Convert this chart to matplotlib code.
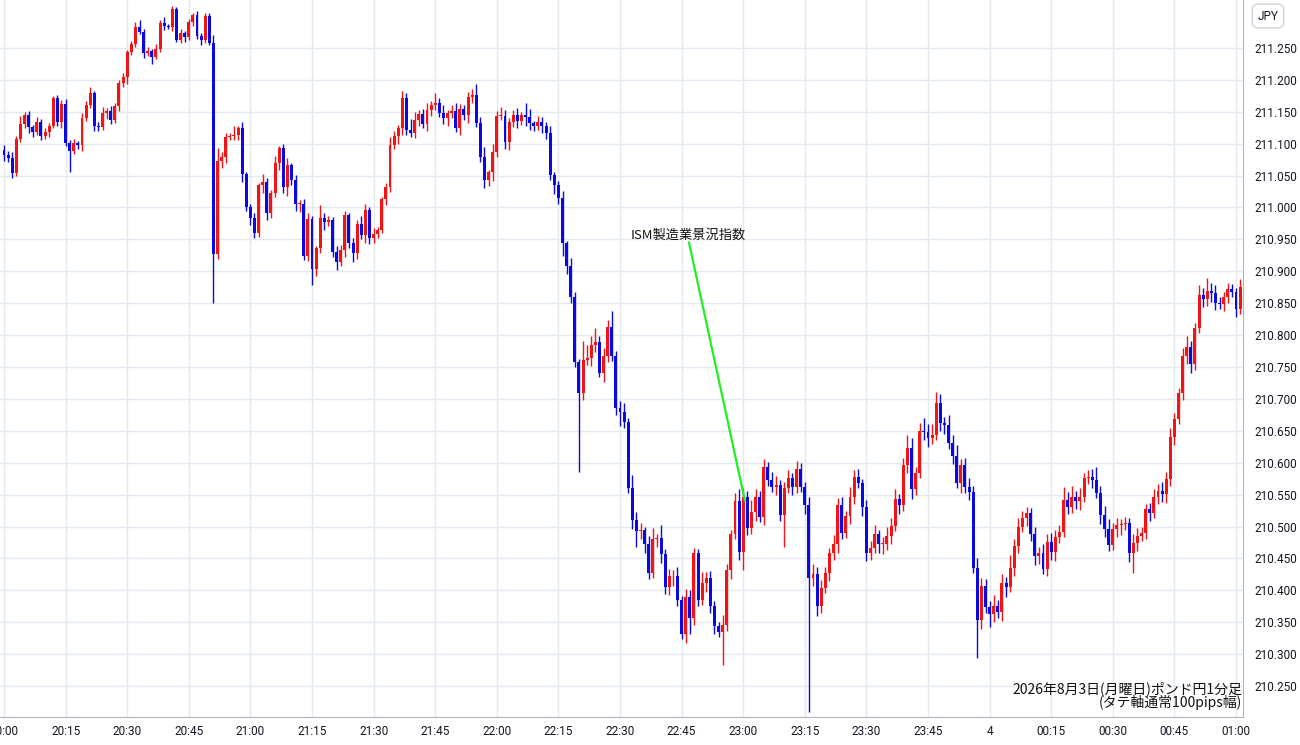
import matplotlib
matplotlib.use("Agg")
import matplotlib.pyplot as plt
import numpy as np

plt.rcParams['font.family'] = ['Noto Sans CJK JP', 'DejaVu Sans']

# closing prices, one per minute starting 20:00
closes = [
 211.082,211.077,211.054,211.107,211.131,211.145,211.126,211.118,211.134,211.112,
 211.118,211.128,211.171,211.134,211.162,211.101,211.088,211.101,211.098,211.140,
 211.160,211.179,211.128,211.126,211.148,211.151,211.137,211.159,211.195,211.204,
 211.244,211.256,211.283,211.275,211.242,211.245,211.236,211.248,211.289,211.284,
 211.283,211.311,211.262,211.273,211.267,211.291,211.301,211.269,211.262,211.300,
 211.258,210.927,
 211.073,211.079,211.110,211.112,211.113,211.124,211.052,211.001,210.983,210.960,
 211.035,211.040,210.991,211.023,211.070,211.093,211.032,211.066,211.043,211.005,
 211.005,210.924,210.982,210.903,210.936,210.983,210.977,210.980,210.930,210.914,
 210.933,210.988,210.944,210.929,210.974,210.957,210.996,210.952,210.958,210.965,
 211.013,
 211.032,211.098,211.112,211.124,211.171,211.121,211.117,211.137,211.146,211.131,
 211.153,211.160,211.164,211.148,211.140,211.148,211.151,211.124,211.154,211.145,
 211.173,211.176,211.132,211.079,211.043,211.055,211.087,211.143,211.143,211.102,
 211.134,211.145,211.135,211.145,211.142,211.132,211.128,211.134,211.128,211.117,
 211.051,211.035,211.015,210.944,210.908,210.860,210.758,210.709,210.761,210.764,
 210.784,210.789,
 210.740,210.767,210.813,210.767,210.686,210.679,210.664,210.560,210.510,210.493,
 210.495,210.473,210.427,210.480,210.482,210.457,210.405,210.422,210.422,210.385,
 210.332,210.390,210.357,210.458,210.385,210.411,210.419,210.375,210.344,210.335,
 210.346,210.432,210.488,210.540,210.460,210.546,210.498,210.523,210.546,210.515,
 210.593,210.573,
 210.562,210.565,210.518,210.560,210.576,210.562,210.590,210.562,210.534,210.419,
 210.426,210.375,210.404,210.427,210.458,210.473,210.534,210.490,210.516,210.546,
 210.578,210.568,210.531,210.458,210.466,210.488,210.473,210.473,210.485,210.501,
 210.543,210.534,210.596,210.623,210.559,210.584,210.650,210.648,210.639,210.643,
 210.693,210.662,210.659,210.631,210.610,210.568,210.596,210.562,210.554,210.435,
 210.353,210.407,210.374,
 210.363,210.375,210.366,210.411,210.405,210.435,210.469,210.499,210.513,210.521,
 210.488,210.454,210.458,210.433,210.476,210.460,210.484,210.491,210.542,210.531,
 210.546,210.540,210.546,210.576,210.578,210.573,210.552,210.518,210.496,210.471,
 210.496,210.502,210.504,210.505,210.458,210.474,210.485,210.490,210.527,210.521,
 210.546,210.556,210.551,210.574,210.640,210.668,210.709,210.767,210.781,210.755,
 210.811,210.863,210.856,210.869,210.866,210.850,210.849,210.860,210.872,210.868,
 210.841,210.876,
]
first_open = 211.090

# wick lengths above / below the body, in 0.001 yen
wick_up = [
 8,6,10,5,12,4,6,3,8,5,6,4,3,5,6,8,4,6,3,8,
 6,10,4,6,10,5,8,4,5,6,3,4,8,10,5,6,4,8,5,10,
 4,5,3,6,4,5,3,6,5,4,4,12,20,8,6,5,15,4,10,3,
 4,8,4,12,6,5,10,4,6,12,4,8,6,8,10,5,4,20,8,6,
 5,10,8,6,4,8,6,12,10,4,10,5,4,6,12,8,5,12,8,18,
 12,6,8,10,6,16,8,12,4,10,12,8,6,8,10,18,10,15,4,12,
 8,14,10,6,8,10,4,18,12,4,10,8,6,10,4,6,10,4,12,8,
 5,30,20,15,22,10,12,10,25,8,10,14,6,20,12,10,4,12,18,6,
 20,8,12,10,15,6,12,10,8,6,18,10,12,8,6,16,10,6,12,18,
 14,10,18,12,10,12,8,12,14,8,10,12,8,12,10,8,12,15,10,12,
 10,8,14,10,12,8,16,10,12,6,10,12,14,6,10,15,12,16,8,12,
 20,15,10,12,20,12,18,17,14,10,16,12,18,10,12,14,10,15,12,10,
 10,18,10,15,10,20,12,15,12,10,8,12,10,15,12,14,10,12,20,12,
 18,10,14,8,10,12,20,12,14,15,10,12,8,10,8,15,12,10,8,10,
 12,10,14,12,15,10,8,12,18,10,8,15,10,20,12,12,10,8,10,8,
 6,12,
]
wick_dn = [
 10,6,8,4,5,6,10,8,4,6,5,8,4,6,10,5,33,4,6,10,
 5,4,8,6,4,10,6,4,8,6,10,5,4,3,8,5,12,4,5,6,
 4,6,3,5,8,4,6,5,8,4,3,77,8,12,10,5,6,8,12,6,
 10,8,6,12,10,8,6,12,10,14,8,10,12,6,8,25,10,8,12,6,
 8,12,6,10,8,14,10,6,12,10,8,6,5,10,8,6,12,10,8,6,
 8,10,6,12,10,8,6,10,12,8,6,10,8,12,10,6,8,12,10,14,
 8,6,10,12,8,10,6,14,10,8,6,12,10,8,14,10,20,12,10,8,
 124,10,8,12,10,6,14,10,8,12,22,10,8,14,25,12,15,10,8,12,
 14,10,12,16,10,8,14,25,12,10,8,14,10,12,8,52,10,14,8,12,
 28,12,10,14,8,12,10,8,12,10,50,8,12,10,8,14,209,12,16,10,
 8,12,10,14,10,8,12,10,8,14,12,10,8,14,16,10,12,8,14,10,
 12,16,10,8,12,14,10,8,12,14,10,12,8,16,10,12,8,59,14,10,
 20,12,10,14,16,8,12,10,8,12,10,14,12,8,10,12,14,10,8,12,
 10,12,14,8,10,12,8,14,12,10,8,12,16,10,14,31,12,8,10,12,
 8,10,12,14,10,12,8,10,12,14,10,8,12,10,14,10,8,12,10,8,
 12,8,
]

tick_labels = ["20:00","20:15","20:30","20:45","21:00","21:15","21:30","21:45",
               "22:00","22:15","22:30","22:45","23:00","23:15","23:30","23:45",
               "4","00:15","00:30","00:45","01:00"]
price_ticks = [211.250,211.200,211.150,211.100,211.050,211.000,210.950,210.900,
               210.850,210.800,210.750,210.700,210.650,210.600,210.550,210.500,
               210.450,210.400,210.350,210.300,210.250]

event_label = "ISM製造業景況指数"
event_minute = 180.4
event_price = 210.541
event_text_pos = (166.5, 210.957)
title1 = "2026年8月3日(月曜日)ポンド円1分足"
title2 = "(タテ軸通常100pips幅)"

n = len(closes)
wu = (wick_up + [8]*n)[:n]
wd = (wick_dn + [8]*n)[:n]
c = np.array(closes)
o = np.concatenate([[first_open], c[:-1]])
top = np.maximum(o, c); bot = np.minimum(o, c)
hi = top + np.array(wu)/1000.0
lo = bot - np.array(wd)/1000.0
x = np.arange(n)
RED = "#f01414"; BLUE = "#0a0ae0"
col = np.where(c >= o, RED, BLUE)

fig = plt.figure(figsize=(13, 7.45), dpi=100)
ax = fig.add_axes([0, 1 - 717/745, 1243/1300, 717/745])
ax.set_xlim(-0.97, 301.7)
ax.set_ylim(210.2015, 211.325)
ax.vlines(x, lo, hi, colors=col, lw=1.0, zorder=2)
h = np.maximum(top - bot, 0.0012)
ax.bar(x, h, bottom=bot, width=0.72, color=col, zorder=3, linewidth=0)

ax.set_xticks(np.arange(0, 301, 15))
ax.set_xticklabels(tick_labels, fontsize=8.5, family=['Roboto','DejaVu Sans'], color="#131722")
ax.set_yticks(price_ticks)
ax.yaxis.tick_right()
ax.set_yticklabels([f"{v:.3f}" for v in price_ticks], fontsize=8.5,
                   family=['Roboto','DejaVu Sans'], color="#131722")
ax.tick_params(axis='both', length=0, pad=8)
ax.tick_params(axis='x', pad=6)
ax.grid(True, color="#e3e9f0", lw=1, zorder=0)
for s in ["top", "left"]:
    ax.spines[s].set_visible(False)
ax.spines["right"].set_color("#b2b5be")
ax.spines["bottom"].set_color("#b2b5be")

ax.plot([event_text_pos[0] + 0.3, event_minute], [event_text_pos[1] - 0.012, event_price],
        color="#22ee22", lw=1.6, zorder=4)
ax.text(event_text_pos[0], event_text_pos[1], event_label, ha="center", va="center",
        fontsize=9.5, color="#111111", zorder=5)
ax.text(301.5, 210.245, title1, ha="right", va="center", fontsize=10, color="#111111")
ax.text(301.5, 210.224, title2, ha="right", va="center", fontsize=10, color="#111111")

fig.text(1268/1300, 1 - 16/745, "JPY", ha="center", va="center", fontsize=8.5,
         family=['Roboto','DejaVu Sans'], color="#131722",
         bbox=dict(boxstyle="round,pad=0.45", fc="white", ec="#d1d4dc", lw=1))

fig.savefig("out.png", dpi=100)
